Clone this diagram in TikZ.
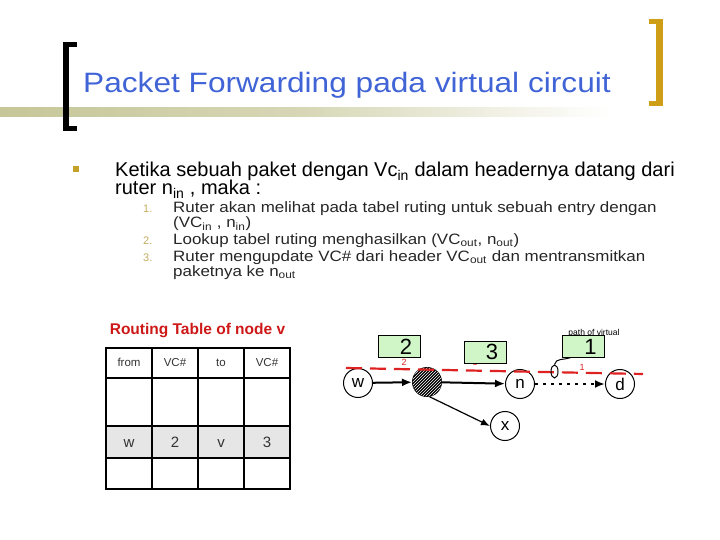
\documentclass[tikz,border=0pt]{standalone}
\usepackage{fontspec}
\setmainfont{Liberation Sans}
\usetikzlibrary{arrows.meta,positioning,patterns,shapes.geometric}

\definecolor{titleblue}{RGB}{64,100,214}
\definecolor{bracketgold}{RGB}{206,158,22}
\definecolor{barolive}{RGB}{198,198,152}
\definecolor{bulletgold}{RGB}{196,162,40}
\definecolor{numgold}{RGB}{196,172,96}
\definecolor{tabred}{RGB}{206,24,24}
\definecolor{vcgreen}{RGB}{208,246,200}
\definecolor{pathred}{RGB}{222,34,34}
\definecolor{rowgrey}{RGB}{230,230,230}
\newcommand{\wider}[1]{\scalebox{1.13}[1]{#1}}

\begin{document}
\begin{tikzpicture}[x=1pt,y=-1pt,
    bodytext/.style={anchor=base west, inner sep=0pt, align=left, font=\fontsize{20}{20}\selectfont},
    listnum/.style={anchor=base west, inner sep=0pt, text=numgold, font=\fontsize{11}{11}\selectfont},
    listtext/.style={anchor=base west, inner sep=0pt, text=black!85, font=\fontsize{15}{15}\selectfont},
    router/.style={circle, draw, line width=1pt, fill=white, minimum size=29pt, inner sep=0pt, font=\fontsize{17}{17}\selectfont},
    vcbox/.style={draw, fill=vcgreen, line width=0.6pt, minimum height=22pt, text width=26pt, align=right, inner xsep=8pt, inner ysep=0pt, font=\fontsize{22}{22}\selectfont},
    vclabel/.style={inner sep=0pt, text=pathred, font=\fontsize{9}{9}\selectfont},
    headcell/.style={anchor=base, inner sep=0pt, text=black!80, font=\fontsize{11.5}{11.5}\selectfont},
    valcell/.style={anchor=base, inner sep=0pt, text=black!80, font=\fontsize{15}{15}\selectfont}]
    \useasboundingbox (0,0) rectangle (720,540);

    % title bar
    \shade[left color=barolive, right color=white, middle color=barolive!70] (0,108) rectangle (610,117);
    \fill (63,42) rectangle (69,131);
    \fill (63,42) rectangle (77,47);
    \fill (63,126) rectangle (77,131);
    \fill[bracketgold] (656,19) rectangle (663,106);
    \fill[bracketgold] (649,19) rectangle (663,24);
    \fill[bracketgold] (649,101) rectangle (663,106);
    \node[anchor=base west, inner sep=0pt, text=titleblue, font=\fontsize{28}{28}\selectfont] (title) at (83,93) {\wider{Packet Forwarding pada virtual circuit}};

    % bullet text
    \fill[bulletgold] (73,166) rectangle (79,172);
    \node[bodytext] (intro) at (115,195) {Ketika sebuah paket dengan Vc\textsubscript{in} dalam headernya datang dari\\[-2pt]ruter n\textsubscript{in} , maka :};

    % steps
    \node[listnum] (num1) at (143,213) {1.};
    \node[listtext] (step1a) at (173,213) {\wider{Ruter akan melihat pada tabel ruting untuk sebuah entry dengan}};
    \node[listtext] (step1b) at (173,228) {\wider{(VC\textsubscript{in} , n\textsubscript{in})}};
    \node[listnum] (num2) at (143,244) {2.};
    \node[listtext] (step2) at (173,244) {\wider{Lookup tabel ruting menghasilkan (VC\textsubscript{out}, n\textsubscript{out})}};
    \node[listnum] (num3) at (143,261) {3.};
    \node[listtext] (step3a) at (173,261) {\wider{Ruter mengupdate VC\# dari header VC\textsubscript{out} dan mentransmitkan}};
    \node[listtext] (step3b) at (173,276) {\wider{paketnya ke n\textsubscript{out}}};

    % routing table
    \node[text=tabred, font=\bfseries\fontsize{15.5}{15.5}\selectfont, inner sep=0pt] (tabtitle) at (197.5,331) {Routing Table of node v};
    \fill[rowgrey] (106,426) rectangle (290,458);
    \foreach \x in {106,152,198,244,290}
        \draw[line width=2pt] (\x,347) -- (\x,490);
    \foreach \y in {348,378,426,458,489}
        \draw[line width=2pt] (105,\y) -- (291,\y);
    \node[headcell] (hfrom) at (129,366) {from};
    \node[headcell] (hvcin) at (175,366) {VC\#};
    \node[headcell] (hto) at (221,366) {to};
    \node[headcell] (hvcout) at (267,366) {VC\#};
    \node[valcell] (rfrom) at (129,447) {w};
    \node[valcell] (rvcin) at (175,447) {2};
    \node[valcell] (rto) at (221,447) {v};
    \node[valcell] (rvcout) at (267,447) {3};

    % virtual circuit labels
    \node[inner sep=0pt, font=\fontsize{8.5}{8.5}\selectfont] (pathtxt) at (594,333) {path of virtual};
    \node[vclabel] (lab2) at (404,362) {2};
    \node[vclabel] (lab3) at (475,362) {3};
    \node[vclabel] (lab1) at (582,367) {1};
    \node[vcbox] (box2) at (399,346.5) {2};
    \node[vcbox] (box3) at (485,352) {3};
    \node[vcbox] (box1) at (583.5,346.5) {1};

    % routers
    \node[router] (w) at (358,383) {w};
    \node[router, fill=black, postaction={pattern=north east lines, pattern color=white}] (v) at (427,382) {};
    \node[router] (n) at (520,384) {n};
    \node[router] (d) at (620,384) {d};
    \node[router] (x) at (505,426) {x};

    % links
    \draw[line width=2pt, -{Latex[length=10pt,width=8pt]}] (w) -- (v);
    \draw[line width=2pt, -{Latex[length=10pt,width=8pt]}] (v) -- (n);
    \draw[line width=2pt, dash pattern=on 3pt off 5pt, -{Latex[length=10pt,width=8pt]}] (n) -- (d);
    \draw[line width=1.2pt, -{Latex[length=9pt,width=7pt]}] (v.-80) -- (x.west);

    % path of virtual circuit
    \coordinate (vcstart) at (346,368);
    \coordinate (vcend) at (643,374);
    \draw[pathred, line width=2.2pt, dash pattern=on 16pt off 8pt] (vcstart) -- (vcend);
    \node[ellipse, draw, line width=1pt, minimum width=7pt, minimum height=13pt, inner sep=0pt] (tap) at (554.5,371.5) {};
    \draw[line width=1pt] (tap.north) to[out=80,in=200] ([xshift=8pt]box1.south west);
\end{tikzpicture}
\end{document}
